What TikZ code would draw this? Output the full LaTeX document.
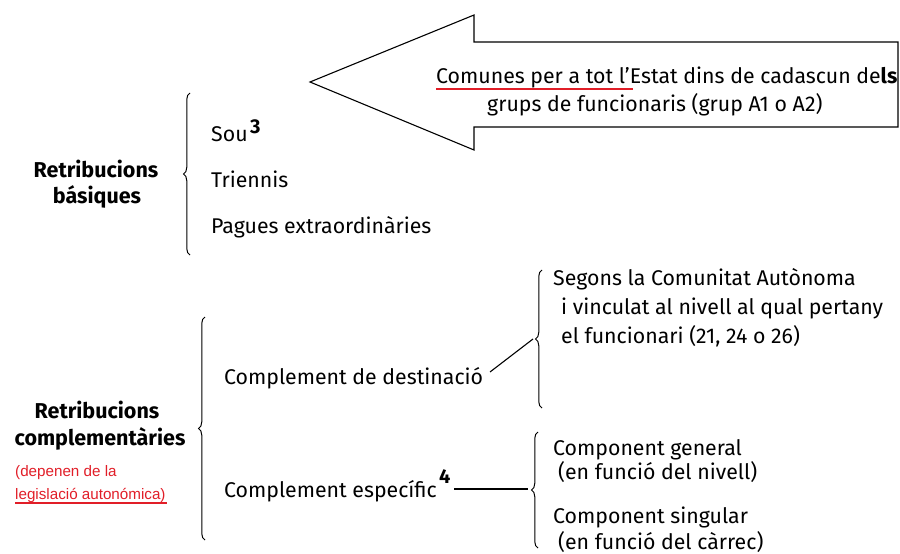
\documentclass[tikz,border=0pt]{standalone}
\usepackage{fontspec}
\setmainfont{Fira Sans}
\newfontfamily\redfont{Liberation Sans}
\usetikzlibrary{decorations.pathreplacing}
\definecolor{redline}{RGB}{225,30,40}
\begin{document}
\begin{tikzpicture}[x=1pt,y=-1pt,
  txt/.style={anchor=base west,inner sep=0pt,font=\fontsize{21.3}{24}\selectfont},
  hd/.style={anchor=base,inner sep=0pt,font=\fontsize{21.5}{24}\selectfont\bfseries},
  rd/.style={anchor=base west,inner sep=0pt,text=redline,font=\redfont\fontsize{15.2}{17}\selectfont},
  sup/.style={anchor=base west,inner sep=0pt,font=\fontsize{20}{22}\selectfont\bfseries},
  brc/.style={decorate,decoration={brace,amplitude=6.5pt,mirror},line width=1pt},
  ln/.style={line width=1.1pt}]
\useasboundingbox (0,0) rectangle (900,554);
% big arrow
\draw[ln] (310,82) -- (474,15) -- (474,42) -- (898,42) -- (898,127) -- (474,127) -- (474,150) -- cycle;
\node[txt] (t1) at (436,83) {Comunes per a tot l’Estat dins de cadascun de\textbf{ls}};
\node[txt] (t2) at (487,111) {grups de funcionaris (grup A1 o A2)};
\coordinate (u1) at (436,89);
\coordinate (u2) at (633,89);
\draw[redline,line width=1.6pt] (u1) -- (u2);
% basic
\node[hd] (rb1) at (96,177) {Retribucions};
\node[hd] (rb2) at (97,203) {básiques};
\coordinate (b1t) at (190,93);
\coordinate (b1b) at (190,255);
\draw[brc] (b1t) -- (b1b);
\node[txt] (sou) at (211,141) {Sou};
\node[sup] (s3) at (250,133) {3};
\node[txt] (tri) at (211,187) {Triennis};
\node[txt] (pag) at (211,233) {Pagues extraordinàries};
% complementary
\node[hd] (rc1) at (97,418) {Retribucions};
\node[hd] (rc2) at (100,445) {complementàries};
\node[rd] (r1) at (15,476) {(depenen de la};
\node[rd] (r2) at (15,499) {legislació autonómica)};
\coordinate (u3) at (15,503);
\coordinate (u4) at (167,503);
\draw[redline,line width=1.4pt] (u3) -- (u4);
\coordinate (b2t) at (205,317);
\coordinate (b2b) at (205,540);
\draw[brc] (b2t) -- (b2b);
\node[txt] (dest) at (224,384) {Complement de destinació};
\node[txt] (esp) at (224,497) {Complement específic};
\node[sup] (s4) at (439,483) {4};
% destination brace
\coordinate (b3t) at (542,270);
\coordinate (b3b) at (542,408);
\draw[brc] (b3t) -- (b3b);
\coordinate (b3tip) at (533,339);
\draw[ln] (490,372) -- (b3tip);
\node[txt] (seg1) at (553,285) {Segons la Comunitat Autònoma};
\node[txt] (seg2) at (561,314) {i vinculat al nivell al qual pertany};
\node[txt] (seg3) at (561,343) {el funcionari (21, 24 o 26)};
% specific brace
\coordinate (b4t) at (538,432);
\coordinate (b4b) at (538,548);
\draw[brc] (b4t) -- (b4b);
\coordinate (b4tip) at (528,489);
\draw[ln] (454,489) -- (b4tip);
\node[txt] (cg1) at (553,455) {Component general};
\node[txt] (cg2) at (558,479) {(en funció del nivell)};
\node[txt] (cs1) at (553,523) {Component singular};
\node[txt] (cs2) at (558,549) {(en funció del càrrec)};
\end{tikzpicture}
\end{document}
